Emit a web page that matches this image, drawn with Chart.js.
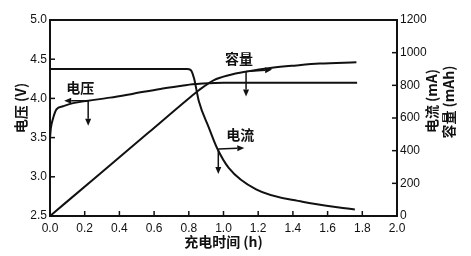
<!DOCTYPE html>
<html>
<head>
<meta charset="utf-8">
<script src="https://cdn.jsdelivr.net/npm/chart.js@4.4.1/dist/chart.umd.min.js"></script>
<style>
  html, body { margin: 0; padding: 0; background: #fff; }
  canvas { display: block; }
</style>
</head>
<body>
<canvas id="c" width="471" height="256"></canvas>
<script>
// ---- data ----
const voltageTime = [0, 0.005, 0.017, 0.037, 0.075, 0.133, 0.22, 0.346, 0.48, 0.636, 0.76, 0.82, 0.88, 1.0, 1.2, 1.4, 1.6, 1.77];
const voltageV    = [3.49, 3.62, 3.74, 3.86, 3.90, 3.94, 3.97, 4.01, 4.06, 4.12, 4.16, 4.18, 4.19, 4.20, 4.20, 4.20, 4.20, 4.20];

const currentTime = [0, 0.79, 0.81, 0.83, 0.858, 0.916, 0.962, 1.03, 1.188, 1.455, 1.757];
const currentMA   = [900, 900, 895, 844, 702, 540, 418, 295, 163, 87, 40];

const capacityTime = [0, 0.278, 0.568, 0.81, 0.858, 0.945, 1.03, 1.13, 1.28, 1.42, 1.554, 1.766];
const capacityMAh  = [0, 250, 511, 729, 770, 832, 862, 884, 908, 922, 933, 941];

const xTicks  = [0, 0.2, 0.4, 0.6, 0.8, 1.0, 1.2, 1.4, 1.6, 1.8, 2.0];
const yTicks  = [2.5, 3.0, 3.5, 4.0, 4.5, 5.0];
const y1Ticks = [0, 200, 400, 600, 800, 1000, 1200];

// annotation labels: [text, axis, time, value]
const annLabels = ['电压', '容量', '电流'];
const annAxis   = ['y', 'y1', 'y1'];
const annTime   = [0.22, 1.13, 0.97];
const annValue  = [3.97, 884, 410];

const xTitle  = '充电时间 (h)';
const yTitle  = '电压 (V)';
const y1Title = ['电流 (mA)', '容量 (mAh)'];

function pts(xs, ys) { return xs.map((x, i) => ({ x: x, y: ys[i] })); }

const TICK_FONT = { family: "'Liberation Sans', Arial, sans-serif", size: 12 };
const CJK = "bold 14px 'Noto Sans CJK SC', 'Noto Sans', sans-serif";

function arrow(ctx, x1, y1, x2, y2) {
  const ang = Math.atan2(y2 - y1, x2 - x1);
  const hl = 7, hw = 3;
  ctx.beginPath();
  ctx.moveTo(x1, y1);
  ctx.lineTo(x2 - hl * Math.cos(ang), y2 - hl * Math.sin(ang));
  ctx.stroke();
  ctx.beginPath();
  ctx.moveTo(x2, y2);
  ctx.lineTo(x2 - hl * Math.cos(ang) - hw * Math.sin(ang), y2 - hl * Math.sin(ang) + hw * Math.cos(ang));
  ctx.lineTo(x2 - hl * Math.cos(ang) + hw * Math.sin(ang), y2 - hl * Math.sin(ang) - hw * Math.cos(ang));
  ctx.closePath();
  ctx.fill();
}

const decor = {
  id: 'decor',
  afterDraw(chart) {
    const ctx = chart.ctx;
    const a = chart.chartArea;
    const sx = chart.scales.x, sy = chart.scales.y, sy1 = chart.scales.y1;
    ctx.save();
    ctx.strokeStyle = '#111';
    ctx.fillStyle = '#111';
    // frame
    ctx.lineWidth = 2;
    ctx.strokeRect(a.left, a.top, a.right - a.left, a.bottom - a.top);
    // inward ticks
    ctx.lineWidth = 1.5;
    const tl = 5;
    xTicks.forEach(v => {
      const p = sx.getPixelForValue(v);
      ctx.beginPath(); ctx.moveTo(p, a.bottom); ctx.lineTo(p, a.bottom - tl); ctx.stroke();
    });
    yTicks.forEach(v => {
      const p = sy.getPixelForValue(v);
      ctx.beginPath(); ctx.moveTo(a.left, p); ctx.lineTo(a.left + tl, p); ctx.stroke();
    });
    y1Ticks.forEach(v => {
      const p = sy1.getPixelForValue(v);
      ctx.beginPath(); ctx.moveTo(a.right, p); ctx.lineTo(a.right - tl, p); ctx.stroke();
    });
    // annotations
    ctx.lineWidth = 1.5;
    ctx.font = CJK;
    ctx.textAlign = 'center';
    ctx.textBaseline = 'middle';
    annLabels.forEach((txt, i) => {
      const scale = chart.scales[annAxis[i]];
      const px = sx.getPixelForValue(annTime[i]);
      const py = scale.getPixelForValue(annValue[i]);
      // vertical arrow down
      arrow(ctx, px, py, px, py + 25);
      if (i === 0) {
        arrow(ctx, px, py, px - 24, py);
        ctx.fillText(txt, px - 8, py - 13);
      } else if (i === 1) {
        arrow(ctx, px, py, px + 26, py - 2);
        ctx.fillText(txt, px - 7, py - 13);
      } else {
        arrow(ctx, px, py, px + 26, py - 1);
        ctx.fillText(txt, px + 22, py - 14);
      }
    });
    // axis titles
    ctx.font = CJK;
    ctx.textAlign = 'center';
    ctx.textBaseline = 'middle';
    ctx.fillText(xTitle, (a.left + a.right) / 2, 242);
    const rot = (t, x, y) => {
      ctx.save(); ctx.translate(x, y); ctx.rotate(-Math.PI / 2); ctx.fillText(t, 0, 0); ctx.restore();
    };
    rot(yTitle, 21, 108);
    rot(y1Title[0], 432, 101);
    rot(y1Title[1], 449, 102);
    ctx.restore();
  }
};

const lineStyle = {
  borderColor: '#111',
  borderWidth: 2,
  pointRadius: 0,
  fill: false,
  cubicInterpolationMode: 'monotone'
};

new Chart(document.getElementById('c'), {
  type: 'line',
  data: {
    datasets: [
      Object.assign({ label: '电压', data: pts(voltageTime, voltageV), yAxisID: 'y' }, lineStyle),
      Object.assign({ label: '电流', data: pts(currentTime, currentMA), yAxisID: 'y1' }, lineStyle),
      Object.assign({ label: '容量', data: pts(capacityTime, capacityMAh), yAxisID: 'y1' }, lineStyle)
    ]
  },
  options: {
    responsive: false,
    animation: false,
    devicePixelRatio: 1,
    layout: { padding: { top: 20, left: 0, right: 0, bottom: 0 } },
    plugins: { legend: { display: false }, tooltip: { enabled: false } },
    scales: {
      x: {
        type: 'linear', min: 0, max: 2,
        afterBuildTicks: s => { s.ticks = xTicks.map(v => ({ value: v })); },
        afterFit: s => { s.height = 40; },
        grid: { display: false, drawTicks: false },
        border: { display: false },
        ticks: { font: TICK_FONT, color: '#111', padding: 5, maxRotation: 0, callback: v => Number(v).toFixed(1) }
      },
      y: {
        type: 'linear', position: 'left', min: 2.5, max: 5.0,
        afterBuildTicks: s => { s.ticks = yTicks.map(v => ({ value: v })); },
        afterFit: s => { s.width = 50; },
        grid: { display: false, drawTicks: false },
        border: { display: false },
        ticks: { font: TICK_FONT, color: '#111', padding: 3, callback: v => Number(v).toFixed(1) }
      },
      y1: {
        type: 'linear', position: 'right', min: 0, max: 1200,
        afterBuildTicks: s => { s.ticks = y1Ticks.map(v => ({ value: v })); },
        afterFit: s => { s.width = 74; },
        grid: { display: false, drawTicks: false },
        border: { display: false },
        ticks: { font: TICK_FONT, color: '#111', padding: 3, callback: v => String(v) }
      }
    }
  },
  plugins: [decor]
});
</script>
</body>
</html>
